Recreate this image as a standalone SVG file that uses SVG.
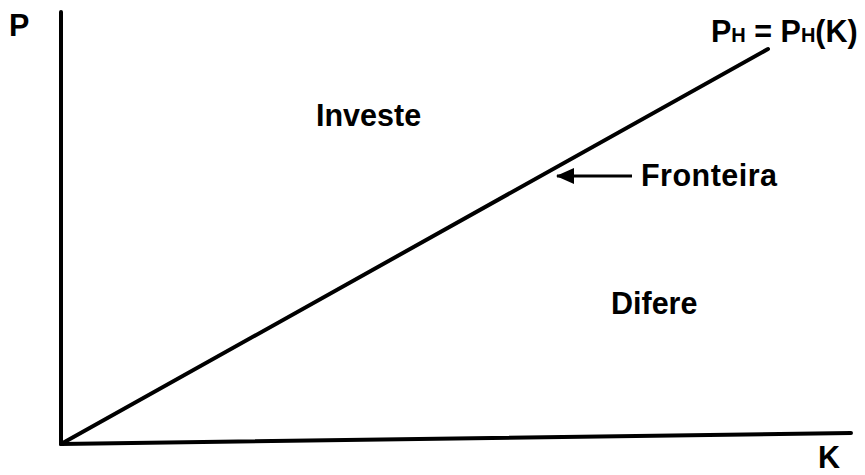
<svg xmlns="http://www.w3.org/2000/svg" width="865" height="475" viewBox="0 0 865 475">
<style>
.t{font-family:"Liberation Sans",Arial,sans-serif;font-weight:bold;font-size:30.5px;fill:#000}
.ax{stroke:#000;stroke-width:4;fill:none;stroke-linecap:round}
</style>
<defs>
<marker id="ah" markerWidth="18" markerHeight="16" refX="17" refY="8" orient="auto" markerUnits="userSpaceOnUse">
<path d="M0,0 L18,8 L0,16 Z" fill="#000"/>
</marker>
</defs>
<rect width="865" height="475" fill="#fff"/>
<g id="connectors">
<line id="axisP" class="ax" x1="61" y1="12" x2="61" y2="444"/>
<line id="axisK" class="ax" x1="61" y1="444" x2="851" y2="433"/>
<line id="frontier" class="ax" x1="61" y1="444" x2="768" y2="49" stroke-width="3.5"/>
<line id="arrow" stroke="#000" stroke-width="3" x1="632" y1="176" x2="557" y2="176" marker-end="url(#ah)"/>
</g>
<g id="labelP"><text class="t" x="9" y="36">P</text></g>
<g id="labelK"><text class="t" x="818" y="468">K</text></g>
<g id="labelPH"><text class="t" x="711" y="42" font-size="31">P<tspan font-size="20">H</tspan> = P<tspan font-size="20">H</tspan>(K)</text></g>
<g id="investe"><text class="t" x="316" y="126">Investe</text></g>
<g id="fronteira"><text class="t" x="641" y="186" textLength="136">Fronteira</text></g>
<g id="difere"><text class="t" x="611" y="314">Difere</text></g>
</svg>
